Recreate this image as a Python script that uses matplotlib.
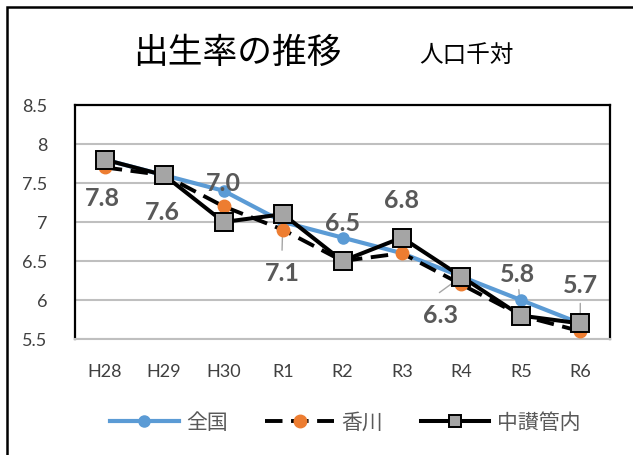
import matplotlib
matplotlib.use("Agg")
import matplotlib.pyplot as plt
from matplotlib.lines import Line2D
from matplotlib.patches import Rectangle

plt.rcParams['font.family'] = ['Lato', 'Noto Sans CJK JP', 'DejaVu Sans']

categories = ["H28", "H29", "H30", "R1", "R2", "R3", "R4", "R5", "R6"]
zenkoku = [7.8, 7.6, 7.4, 7.0, 6.8, 6.6, 6.3, 6.0, 5.7]
kagawa = [7.7, 7.6, 7.2, 6.9, 6.5, 6.6, 6.2, 5.8, 5.6]
chusan = [7.8, 7.6, 7.0, 7.1, 6.5, 6.8, 6.3, 5.8, 5.7]
chusan_labels = ["7.8", "7.6", "7.0", "7.1", "6.5", "6.8", "6.3", "5.8", "5.7"]
series_names = ["全国", "香川", "中讃管内"]
yticks = [5.5, 6, 6.5, 7, 7.5, 8, 8.5]
ytick_labels = ["5.5", "6", "6.5", "7", "7.5", "8", "8.5"]

W, H = 633, 456
fig = plt.figure(figsize=(W / 100, H / 100), dpi=100)
ax = fig.add_axes([75 / W, 1 - 340 / H, (610 - 75) / W, (340 - 106) / H])

x = list(range(len(categories)))

blue = "#5B9BD5"
orange = "#ED7D31"
gray_mark = "#A5A5A5"

ax.plot(x, zenkoku, color=blue, lw=3.0, marker="o", ms=8,
        mfc=blue, mec=blue, zorder=3, solid_capstyle="round")
ax.plot(x, kagawa, color="black", lw=2.8, ls=(0, (4.5, 2.2)), marker="o", ms=9,
        mfc=orange, mec=orange, zorder=4)
ax.plot(x, chusan, color="black", lw=2.9, marker="s", ms=13,
        mfc=gray_mark, mec="black", mew=1.4, zorder=5)

# data labels (offsets in pixels)
offsets = [(-2, -38), (-2, -36), (0, 39), (-1, -58), (0, 38),
           (0, 38), (-21, -38), (-3, 42), (0, 39)]
for i, (lab, off) in enumerate(zip(chusan_labels, offsets)):
    ax.annotate(lab, (x[i], chusan[i]), xytext=off, textcoords="offset pixels",
                ha="center", va="center", fontsize=18, fontweight="bold",
                color="#595959", family=["Lato", "DejaVu Sans"], zorder=6)

# leader lines: (shrink near point in px, far end offset in px)
leader_px = {3: (16, (-1, -36)), 6: (12, (-22, -16)),
             7: (12, (-2, 26)), 8: (10, (0, 20))}
for i, (shr, p1) in leader_px.items():
    ax.annotate("", xy=(x[i], chusan[i]), xytext=p1, textcoords="offset pixels",
                arrowprops=dict(arrowstyle="-", color="#A6A6A6", lw=1.0,
                                shrinkA=0, shrinkB=shr * 0.72),
                zorder=2)

ax.set_xlim(-0.5, len(categories) - 0.5)
ax.set_ylim(5.5, 8.5)
ax.set_yticks(yticks)
ax.set_yticklabels(ytick_labels)
ax.set_xticks(x)
ax.set_xticklabels(categories)
ax.tick_params(axis="both", length=0, labelsize=13, labelcolor="#404040")
ax.tick_params(axis="y", pad=20)
ax.tick_params(axis="x", pad=17)

for v in yticks:
    ax.axhline(v, color="#BFBFBF", lw=1.5, zorder=1)

for s in ["left", "top", "right"]:
    ax.spines[s].set_color("black")
    ax.spines[s].set_linewidth(1.6)
ax.spines["bottom"].set_color("#BFBFBF")
ax.spines["bottom"].set_linewidth(1.5)

# title
fig.text(237 / W, 1 - 53 / H, "出生率の推移", ha="center", va="center",
         fontsize=25, color="black", family=["Noto Sans CJK JP", "DejaVu Sans"])
fig.text(466 / W, 1 - 55 / H, "人口千対", ha="center", va="center",
         fontsize=17, color="black", family=["Noto Sans CJK JP", "DejaVu Sans"])

# legend
handles = [
    Line2D([], [], color=blue, lw=3.0, marker="o", ms=8, mfc=blue, mec=blue),
    Line2D([], [], color="black", lw=2.8, ls=(0, (4.5, 2.2)), marker="o", ms=9,
           mfc=orange, mec=orange),
    Line2D([], [], color="black", lw=2.9, marker="s", ms=9, mfc=gray_mark,
           mec="black", mew=1.4),
]
leg = fig.legend(handles, series_names, loc="center", ncol=3,
                 bbox_to_anchor=(345 / W, 1 - 423 / H), frameon=False,
                 prop={"family": ["Noto Sans CJK JP", "DejaVu Sans"], "size": 15},
                 handlelength=3.3, handletextpad=0.35, columnspacing=1.8)
for t in leg.get_texts():
    t.set_color("#595959")

# outer border
fig.patches.append(Rectangle((7 / W, -0.1), 1.2, 1 - 8 / H + 0.1,
                             transform=fig.transFigure, fill=False,
                             edgecolor="black", lw=1.8, zorder=10))

fig.savefig("out.png", dpi=100)
